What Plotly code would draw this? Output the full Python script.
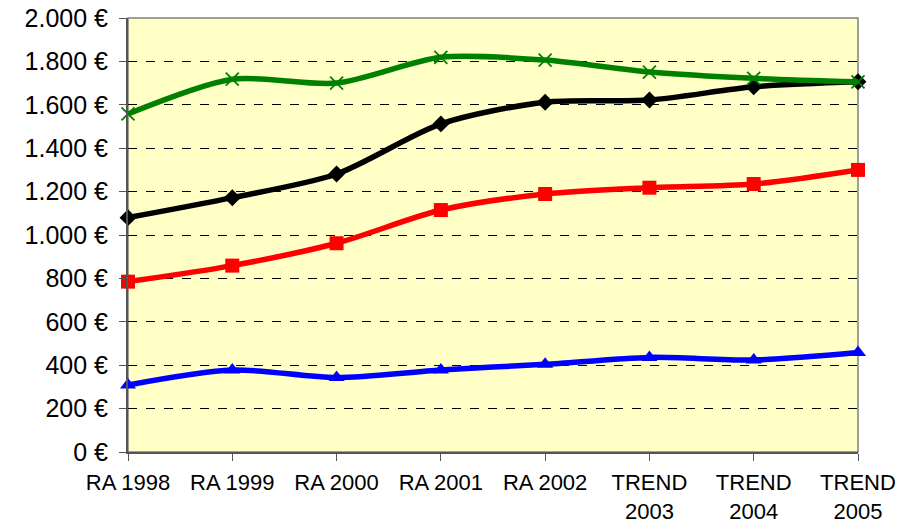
import plotly.graph_objects as go

categories = ["RA 1998", "RA 1999", "RA 2000", "RA 2001", "RA 2002",
              "TREND<br>2003", "TREND<br>2004", "TREND<br>2005"]
green_vals = [1558, 1718, 1700, 1819, 1806, 1751, 1722, 1706]
black_vals = [1080, 1172, 1281, 1512, 1612, 1622, 1683, 1706]
red_vals = [785, 859, 962, 1115, 1189, 1218, 1235, 1300]
blue_vals = [309, 378, 343, 378, 404, 436, 424, 458]

y_ticks = list(range(0, 2001, 200))
y_ticktext = [f"{v:,}".replace(",", ".") + " €" for v in y_ticks]

x_idx = list(range(len(categories)))

fig = go.Figure()

series = [
    (blue_vals, "#0000FF", "triangle-up", 14, None),
    (red_vals, "#FF0000", "square", 14, None),
    (black_vals, "#000000", "diamond", 13, None),
    (green_vals, "#008000", "x-thin", 13, 1.8),
]
for vals, col, sym, size, lw in series:
    mk = dict(symbol=sym, size=size, color=col)
    if lw:
        mk["line"] = dict(color=col, width=lw)
    fig.add_trace(go.Scatter(
        x=x_idx, y=vals, mode="lines+markers",
        line=dict(color=col, width=5.5, shape="spline", smoothing=0.8),
        marker=mk, showlegend=False, cliponaxis=False,
    ))

fig.update_layout(
    width=912, height=526,
    margin=dict(l=128, r=54, t=18, b=74),
    paper_bgcolor="white",
    plot_bgcolor="#FFFFC6",
    font=dict(family="Liberation Sans, Arial, sans-serif", color="black"),
)
fig.update_xaxes(
    range=[0, 7], tickmode="array", tickvals=x_idx, ticktext=categories,
    showgrid=False, zeroline=False, automargin=False,
    showline=True, linecolor="#555555", linewidth=2,
    ticks="outside", ticklen=7, tickcolor="#555555", tickwidth=1,
    tickfont=dict(size=22), ticklabelstandoff=3,
)
fig.update_yaxes(
    range=[0, 2000], tickmode="array", tickvals=y_ticks, ticktext=y_ticktext,
    showgrid=True, gridcolor="#000000", griddash="dash", gridwidth=1,
    zeroline=False, automargin=False,
    showline=True, linecolor="#555555", linewidth=2,
    ticks="outside", ticklen=7, tickcolor="#555555", tickwidth=1,
    tickfont=dict(size=25), ticklabelstandoff=6,
)
# plot-area border (top/right)
fig.add_shape(type="rect", xref="paper", yref="paper", x0=0, x1=1, y0=0, y1=1,
              line=dict(color="#808080", width=1.5), layer="below")

fig.write_html("out.html", config={"displayModeBar": False},
               post_script="document.body.style.margin='0';document.body.style.padding='0';")
